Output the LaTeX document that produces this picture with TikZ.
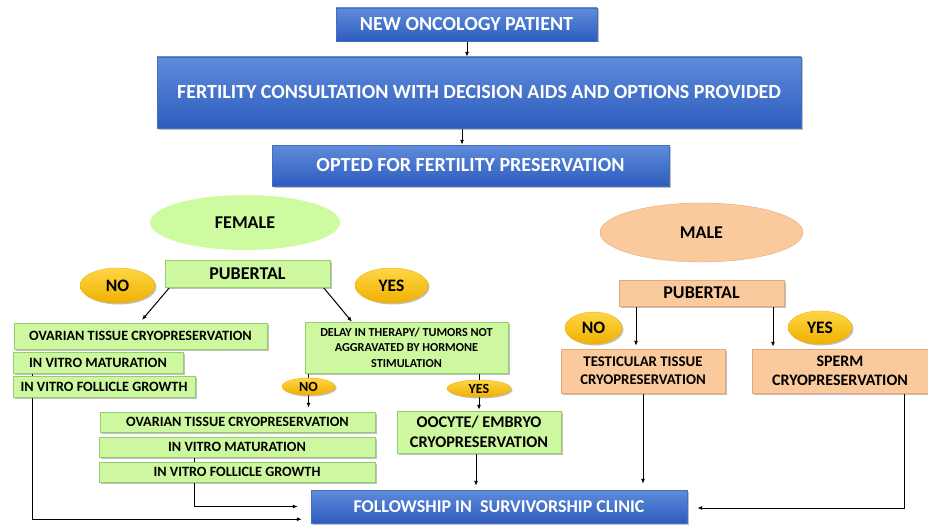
\documentclass[tikz,border=0pt]{standalone}
\usepackage{fontspec}
\setmainfont{Carlito}
\usetikzlibrary{shapes.geometric,shadows,backgrounds,arrows.meta}
\definecolor{bluetop}{RGB}{95,140,218}
\definecolor{bluebot}{RGB}{45,92,190}
\definecolor{blueline}{RGB}{70,110,190}
\definecolor{gfill}{RGB}{206,248,160}
\definecolor{gline}{RGB}{150,205,110}
\definecolor{pfill}{RGB}{251,202,156}
\definecolor{pline}{RGB}{230,170,120}
\definecolor{ytop}{RGB}{255,214,70}
\definecolor{ybot}{RGB}{240,176,0}
\definecolor{femfill}{RGB}{206,250,160}
\newcommand{\fs}[2]{\fontsize{#1}{#2}\selectfont}
\tikzset{
  shad/.style={drop shadow={shadow xshift=1.5pt,shadow yshift=-1.5pt,opacity=0.35,fill=black!70}},
  bluebox/.style={rectangle,shad,draw=blueline,top color=bluetop,bottom color=bluebot,text=white,inner sep=1pt,align=center},
  greenbox/.style={rectangle,shad,draw=gline,fill=gfill,text=black,inner sep=1pt,align=center},
  peachbox/.style={rectangle,shad,draw=pline,fill=pfill,text=black,inner sep=1pt,align=center},
  yell/.style={ellipse,shad,top color=ytop,bottom color=ybot,draw=ybot,inner sep=0pt,text=black},
  arr/.style={draw=black,line width=1pt,-{Latex[length=5pt,width=4pt]}},
  ln/.style={draw=black,line width=1pt},
  fz/.style 2 args={font=\bfseries\fs{#1}{#2}},
}
\begin{document}
\begin{tikzpicture}[x=1pt,y=-1pt,font=\bfseries]
\useasboundingbox (0,0) rectangle (928,532);
% top chain
\node[bluebox,fz={20}{22},minimum width=261pt,minimum height=33pt] (new) at (466.5,24.5) {NEW ONCOLOGY PATIENT};
\node[bluebox,fz={20}{22},minimum width=644pt,minimum height=71pt] (fert) at (479,92.5) {FERTILITY CONSULTATION WITH DECISION AIDS AND OPTIONS PROVIDED};
\node[bluebox,fz={20}{22},minimum width=397pt,minimum height=41pt] (opt) at (470.5,165.5) {OPTED FOR FERTILITY PRESERVATION};
% female
\node[ellipse,fz={18}{20},fill=femfill,inner sep=0pt,minimum width=190pt,minimum height=55pt] (fem) at (245,222.5) {FEMALE};
\node[greenbox,fz={18}{20},minimum width=165pt,minimum height=27pt] (pubF) at (247.5,273.5) {PUBERTAL};
\node[yell,fz={17.5}{19},minimum width=75pt,minimum height=35pt] (noF) at (117.5,285.5) {NO};
\node[yell,fz={17.5}{19},minimum width=73pt,minimum height=35pt] (yesF) at (391.5,285.5) {YES};
\node[greenbox,fz={14.2}{16},minimum width=253pt,minimum height=26pt] (ovL) at (140.5,336) {OVARIAN TISSUE CRYOPRESERVATION};
\node[greenbox,fz={14.2}{16},minimum width=170pt,minimum height=21pt] (ivmL) at (98,362.5) {IN VITRO MATURATION};
\node[greenbox,fz={14.2}{16},minimum width=182pt,minimum height=21pt] (ivfL) at (104,386.5) {IN VITRO FOLLICLE GROWTH};
\node[greenbox,fz={12.2}{15.5},minimum width=203pt,minimum height=51pt] (delay) at (406.5,347.5) {DELAY IN THERAPY/ TUMORS NOT\\AGGRAVATED BY HORMONE\\STIMULATION};
\node[yell,fz={14}{15},minimum width=53pt,minimum height=17pt] (noS) at (308.5,386.5) {NO};
\node[yell,fz={14}{15},minimum width=64pt,minimum height=17pt] (yesS) at (479,388.5) {YES};
\node[greenbox,fz={14.2}{16},minimum width=275pt,minimum height=20pt] (ov2) at (237.5,422) {OVARIAN TISSUE CRYOPRESERVATION};
\node[greenbox,fz={14.2}{16},minimum width=276pt,minimum height=20pt] (ivm2) at (237,447) {IN VITRO MATURATION};
\node[greenbox,fz={14.2}{16},minimum width=276pt,minimum height=20pt] (ivf2) at (237,472) {IN VITRO FOLLICLE GROWTH};
\node[greenbox,fz={16.3}{20},minimum width=164pt,minimum height=42pt] (ooc) at (479,432) {OOCYTE/ EMBRYO\\CRYOPRESERVATION};
\node[bluebox,fz={18}{20},minimum width=376pt,minimum height=33pt] (fol) at (499,506.5) {FOLLOWSHIP IN\ \ SURVIVORSHIP CLINIC};
% male
\node[ellipse,fz={18}{20},fill=pfill,draw=pline,inner sep=0pt,minimum width=203pt,minimum height=59pt] (male) at (701.5,232.5) {MALE};
\node[peachbox,fz={18}{20},minimum width=165pt,minimum height=26pt] (pubM) at (701.5,293) {PUBERTAL};
\node[yell,fz={17.5}{19},minimum width=57pt,minimum height=32pt] (noM) at (593.5,328) {NO};
\node[yell,fz={17.5}{19},minimum width=64pt,minimum height=33pt] (yesM) at (820,327.5) {YES};
\node[peachbox,fz={14.8}{18},minimum width=164pt,minimum height=44pt] (test) at (643,371) {TESTICULAR TISSUE\\CRYOPRESERVATION};
\node[peachbox,fz={16}{19},minimum width=176pt,minimum height=44pt] (sperm) at (840,371) {SPERM\\CRYOPRESERVATION};
\coordinate (aL) at (142,320);
\begin{scope}[on background layer]
\fill[white] (0,0) rectangle (928,532);
\draw[arr] (new.south -| 467,0) -- (fert.north -| 467,0);
\draw[arr] (fert.south -| 462,0) -- (opt.north -| 462,0);
\draw[arr] ([xshift=5pt]pubF.south west) -- (aL);
\draw[arr] ([xshift=-7pt]pubF.south east) -- (delay.north -| 352,0);
\draw[arr] ([xshift=20pt]ivmL.south west) |- ([xshift=-9pt,yshift=4pt]fol.south west);
\draw[ln] (delay.south -| noS.north) -- (noS.north);
\draw[arr,shorten >=4pt] (noS.south) -- (noS.south |- ov2.north);
\draw[ln] (delay.south -| yesS.north) -- (yesS.north);
\draw[arr,shorten >=1pt] (yesS.south) -- (yesS.south |- ooc.north);
\draw[arr] ([xshift=96pt]ivm2.south west) |- ([xshift=-13pt]fol.west);
\draw[arr,shorten >=4pt] (ooc.south -| 476,0) -- (fol.north -| 476,0);
\draw[arr,shorten >=3pt] (pubM.south -| 636,0) -- (test.north -| 636,0);
\draw[arr,shorten >=2pt] (pubM.south -| 773,0) -- (sperm.north -| 773,0);
\draw[arr,shorten >=6pt] (test.south) -- (test.south |- fol.north);
\draw[arr] (sperm.south -| 904,0) |- ([xshift=10pt,yshift=-1.5pt]fol.east);
\end{scope}
\end{tikzpicture}
\end{document}
